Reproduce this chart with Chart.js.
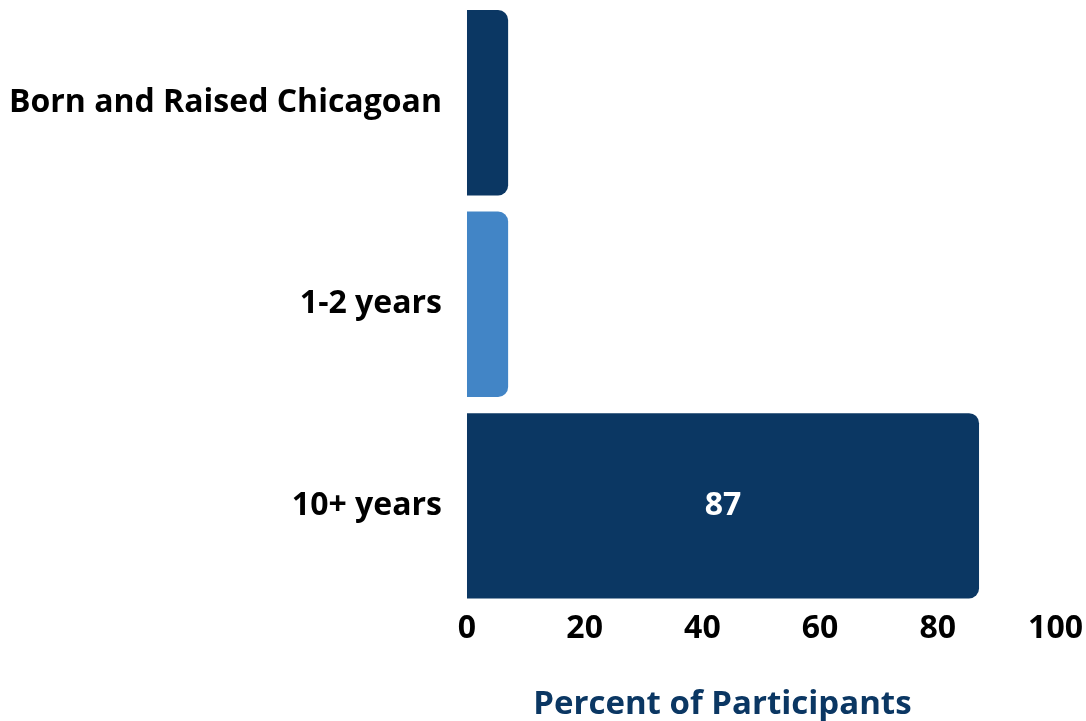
<!DOCTYPE html>
<html>
<head>
<meta charset="utf-8">
<script src="https://cdn.jsdelivr.net/npm/chart.js@4/dist/chart.umd.min.js"></script>
<style>
  html, body { margin: 0; padding: 0; background: #fff; }
  #wrap { width: 1086px; height: 721px; position: relative; }
</style>
</head>
<body>
<div id="wrap"><canvas id="chart"></canvas></div>
<script>
const categories = ['Born and Raised Chicagoan', '1-2 years', '10+ years'];
const percents = [7, 7, 87];
const barColors = ['#0b3763', '#4285c6', '#0b3763'];
const xTicks = [0, 20, 40, 60, 80, 100];
const xTitle = 'Percent of Participants';

const FONT = '"Open Sans", "Noto Sans", sans-serif';
const NAVY = '#0b3763';

// draws the value inside a bar when there is room for it
const valueLabels = {
  id: 'valueLabels',
  afterDatasetsDraw(chart) {
    const ctx = chart.ctx;
    const meta = chart.getDatasetMeta(0);
    ctx.save();
    ctx.font = 'bold 32px ' + FONT;
    ctx.fillStyle = '#ffffff';
    ctx.textAlign = 'center';
    ctx.textBaseline = 'middle';
    meta.data.forEach((bar, i) => {
      const w = bar.x - bar.base;
      if (w < 60) return;
      ctx.fillText(String(percents[i]), bar.base + w / 2, bar.y);
    });
    ctx.restore();
  }
};

// axis title sits left of the axis centre in the original, so place it by hand
const axisTitle = {
  id: 'axisTitle',
  afterDraw(chart) {
    const {ctx, chartArea} = chart;
    ctx.save();
    ctx.font = 'bold 33px ' + FONT;
    ctx.fillStyle = NAVY;
    ctx.textAlign = 'center';
    ctx.textBaseline = 'alphabetic';
    const cx = chartArea.left + (chartArea.right - chartArea.left) * 0.434;
    ctx.fillText(xTitle, cx, chart.height - 7);
    ctx.restore();
  }
};

new Chart(document.getElementById('chart'), {
  type: 'bar',
  data: {
    labels: categories,
    datasets: [{
      data: percents,
      backgroundColor: barColors,
      borderRadius: 10,
      borderSkipped: 'start',
      barPercentage: 0.92,
      categoryPercentage: 1
    }]
  },
  options: {
    indexAxis: 'y',
    responsive: true,
    maintainAspectRatio: false,
    animation: false,
    layout: { padding: { top: 2, left: -8, right: 7, bottom: 70 } },
    plugins: {
      legend: { display: false },
      tooltip: { enabled: false }
    },
    scales: {
      x: {
        min: 0,
        max: 100,
        afterBuildTicks: (axis) => { axis.ticks = xTicks.map(v => ({ value: v })); },
        grid: { display: false, drawTicks: false },
        border: { display: false },
        ticks: {
          color: '#000',
          padding: 3,
          font: { family: FONT, size: 32, weight: 'bold' }
        }
      },
      y: {
        grid: { display: false },
        border: { display: false },
        // the category labels should not push the plot down
        afterFit: (axis) => { axis.paddingTop = 0; axis.paddingBottom = 0; },
        ticks: {
          color: '#000',
          padding: 17,
          font: { family: FONT, size: 32, weight: 'bold' }
        }
      }
    }
  },
  plugins: [valueLabels, axisTitle]
});
</script>
</body>
</html>
